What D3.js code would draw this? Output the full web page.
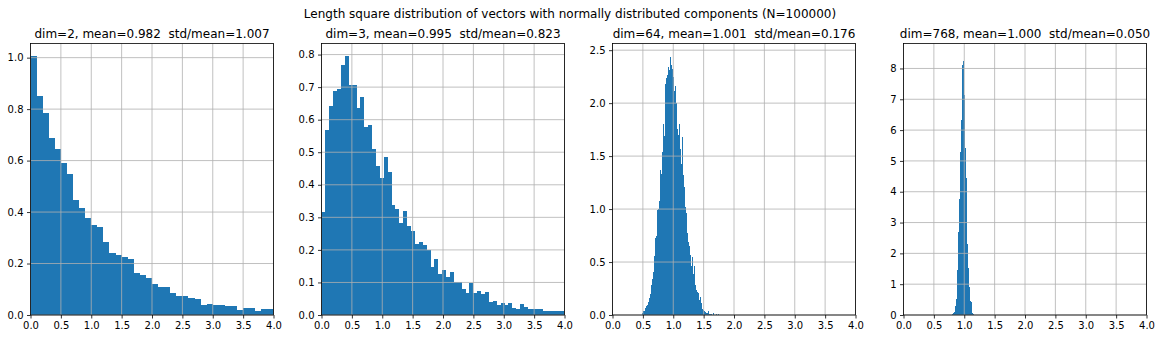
<!DOCTYPE html>
<html><head><meta charset="utf-8">
<script src="https://cdn.jsdelivr.net/npm/d3@7"></script>
<style>
body{margin:0;background:#fff}
text{font-family:"DejaVu Sans",sans-serif;fill:#000;white-space:pre}
</style>
</head><body>
<svg id="chart" width="1164" height="339" xml:space="preserve"></svg>
<script>
const suptitle = "Length square distribution of vectors with normally distributed components (N=100000)";
const titles = [
  "dim=2, mean=0.982  std/mean=1.007",
  "dim=3, mean=0.995  std/mean=0.823",
  "dim=64, mean=1.001  std/mean=0.176",
  "dim=768, mean=1.000  std/mean=0.050"
];
const binStarts = [0, 0, 0.48, 0.8];
const binWidths = [0.1, 0.0641, 0.015, 0.01667];
const heightsDim2 = [1.005,0.850,0.784,0.687,0.644,0.590,0.547,0.446,0.415,0.376,
  0.349,0.342,0.283,0.241,0.233,0.225,0.217,0.163,0.155,0.144,
  0.120,0.109,0.109,0.085,0.074,0.074,0.066,0.062,0.039,0.043,
  0.039,0.039,0.035,0.035,0.019,0.027,0.027,0.016,0.023,0.023];
const heightsDim3 = [0.316,0.568,0.641,0.687,0.693,0.767,0.795,0.705,0.708,0.635,
  0.669,0.577,0.583,0.509,0.457,0.420,0.485,0.439,0.338,0.325,
  0.282,0.319,0.273,0.258,0.218,0.224,0.215,0.199,0.147,0.172,
  0.126,0.138,0.117,0.132,0.101,0.100,0.080,0.068,0.098,0.068,
  0.074,0.064,0.071,0.040,0.043,0.031,0.037,0.031,0.037,0.021,
  0.018,0.034,0.025,0.018,0.018,0.018,0.018,0.012,0.012,0.012,
  0.012,0.012,0.012];
const heightsDim64 = [0.02,0.025,0.035,0.04,0.065,0.085,0.09,0.12,0.16,0.2,
  0.28,0.34,0.41,0.55,0.56,0.73,0.75,0.99,1.0,1.08,
  1.37,1.33,1.54,1.80,1.81,1.69,2.18,2.24,2.27,2.34,
  2.31,2.44,2.36,2.32,2.25,2.19,2.11,2.16,2.0,1.76,
  1.70,1.80,1.57,1.43,1.68,1.32,1.22,1.21,1.02,0.96,
  0.77,0.69,0.65,0.57,0.46,0.55,0.39,0.46,0.30,0.28,
  0.24,0.22,0.21,0.14,0.167,0.11,0.053,0.047,0.04,0.047,
  0.03,0.02,0.015,0.035,0.01,0.005,0.012,0.004,0.015,0,
  0.012,0,0.012,0,0.008];
const heightsDim768 = [0.03,0.05,0.1,0.29,0.51,1.46,2.69,3.76,5.29,6.32,
  8.11,8.25,7.14,5.42,4.43,2.32,1.54,0.92,0.45,0.41,0.05,0.02];
const heights = [heightsDim2, heightsDim3, heightsDim64, heightsDim768];
const yMaxes = [1.055, 0.834, 2.563, 8.81];
const yTicksDim2 = [0,0.2,0.4,0.6,0.8,1.0];
const yTicksDim3 = [0,0.1,0.2,0.3,0.4,0.5,0.6,0.7,0.8];
const yTicksDim64 = [0,0.5,1.0,1.5,2.0,2.5];
const yTicksDim768 = [0,1,2,3,4,5,6,7,8];
const yTicks = [yTicksDim2, yTicksDim3, yTicksDim64, yTicksDim768];
const yFormats = [".1f", ".1f", ".1f", "d"];
const xTicks = [0,0.5,1.0,1.5,2.0,2.5,3.0,3.5,4.0];
const xDomain = [0, 4];

(function draw() {
const svg = d3.select("#chart");
const lefts = [30.5, 321.5, 612.5, 903.5];
const pw = 243, plotTop = 43.5, plotBottom = 315;
const barColor = "#1f77b4", gridColor = "#b0b0b0";

svg.append("text").attr("x", 570).attr("y", 17.5).attr("text-anchor", "middle")
  .style("font-size", "12px").text(suptitle);

lefts.forEach((left, i) => {
  const x = d3.scaleLinear().domain(xDomain).range([left, left + pw]);
  const y = d3.scaleLinear().domain([0, yMaxes[i]]).range([plotBottom, plotTop]);
  const g = svg.append("g");
  const clipId = "clip" + i;
  svg.append("clipPath").attr("id", clipId).append("rect")
    .attr("x", left).attr("y", plotTop).attr("width", pw).attr("height", plotBottom - plotTop);

  const bins = heights[i].map((h, k) => ({x0: binStarts[i] + k * binWidths[i], x1: binStarts[i] + (k + 1) * binWidths[i], h}));
  g.append("g").attr("clip-path", `url(#${clipId})`).selectAll("rect").data(bins).join("rect")
    .attr("x", d => x(d.x0)).attr("width", d => Math.max(0, x(d.x1) - x(d.x0)))
    .attr("y", d => y(d.h)).attr("height", d => y(0) - y(d.h))
    .attr("fill", barColor).attr("shape-rendering", "crispEdges");

  const grid = g.append("g");
  grid.selectAll(".gx").data(xTicks).join("line")
    .attr("x1", d => x(d)).attr("x2", d => x(d)).attr("y1", plotTop).attr("y2", plotBottom)
    .attr("stroke", gridColor).attr("stroke-width", 0.8);
  grid.selectAll(".gy").data(yTicks[i]).join("line")
    .attr("x1", left).attr("x2", left + pw).attr("y1", d => y(d)).attr("y2", d => y(d))
    .attr("stroke", gridColor).attr("stroke-width", 0.8);

  const xa = g.append("g").attr("transform", `translate(0,${plotBottom})`)
    .call(d3.axisBottom(x).tickValues(xTicks).tickFormat(d3.format(".1f")).tickSizeOuter(0).tickSize(3.5).tickPadding(3.5));
  const ya = g.append("g").attr("transform", `translate(${left},0)`)
    .call(d3.axisLeft(y).tickValues(yTicks[i]).tickFormat(d3.format(yFormats[i])).tickSizeOuter(0).tickSize(3.5).tickPadding(3.5));
  [xa, ya].forEach(a => {
    a.select(".domain").remove();
    a.selectAll("text").style("font-size", "10px").attr("fill", "#000").style("font-family", "DejaVu Sans");
    a.selectAll("line").attr("stroke", "#000").attr("stroke-width", 0.8);
  });
  g.append("rect").attr("x", left).attr("y", plotTop).attr("width", pw).attr("height", plotBottom - plotTop)
    .attr("fill", "none").attr("stroke", "#000").attr("stroke-width", 0.8);

  g.append("text").attr("x", left + pw / 2).attr("y", plotTop - 6).attr("text-anchor", "middle")
    .style("font-size", "12px").text(titles[i]);
});
})();
</script>
</body></html>
